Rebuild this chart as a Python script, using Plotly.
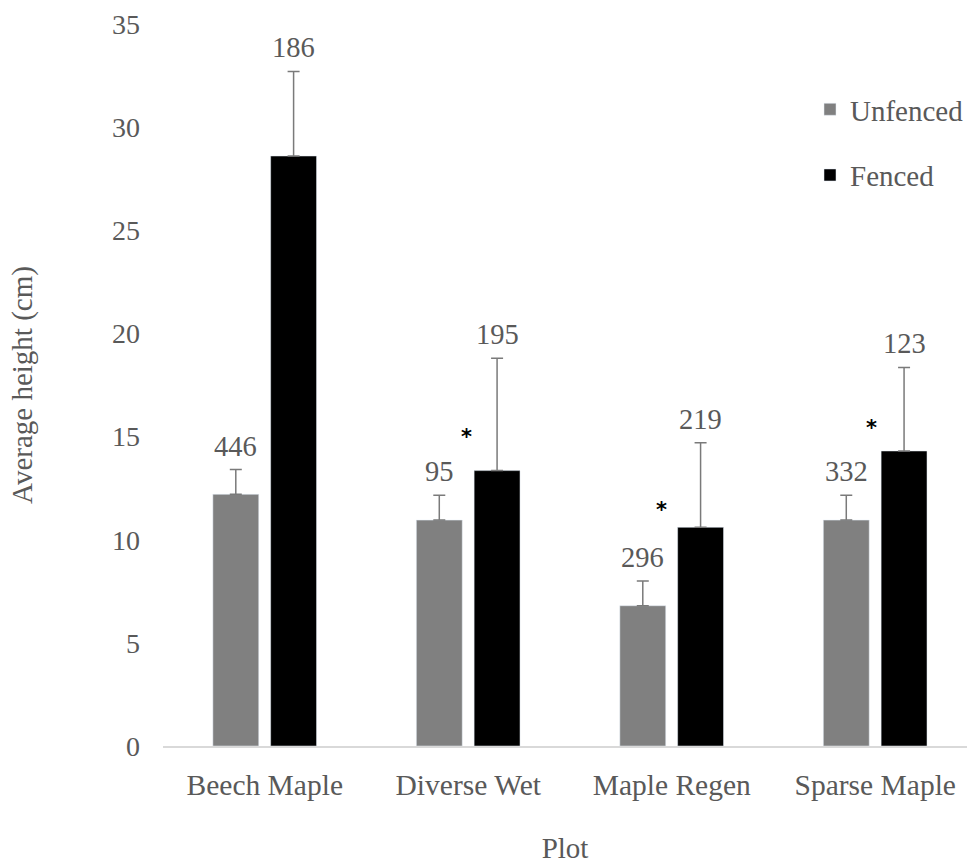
import plotly.graph_objects as go

categories = ["Beech Maple", "Diverse Wet", "Maple Regen", "Sparse Maple"]
unfenced_mean = [12.2, 10.95, 6.8, 10.95]
unfenced_err = [1.2, 1.2, 1.2, 1.2]
fenced_mean = [28.6, 13.35, 10.6, 14.3]
fenced_err = [4.1, 5.45, 4.1, 4.05]
unfenced_n = ["446", "95", "296", "332"]
fenced_n = ["186", "195", "219", "123"]
signif_y = [None, 15.0, 11.45, 15.4]
y_ticks = [0, 5, 10, 15, 20, 25, 30, 35]

FONT = "Liberation Serif"
TXT = "#595959"
BW = 0.2255
OFF_U = -0.255
OFF_F = 0.029
STAR_DX = [0, -0.01, -0.05, -0.02]  # horizontal nudges for the asterisks

xs = list(range(len(categories)))

fig = go.Figure()
fig.add_trace(go.Bar(
    x=xs, y=unfenced_mean, name="Unfenced", marker_color="#808080",
    width=BW, offset=OFF_U, legendgroup="u",
    error_y=dict(type="data", array=unfenced_err, arrayminus=[0] * 4,
                 symmetric=False, color="#7a7a7a", thickness=1.5, width=6),
))
fig.add_trace(go.Bar(
    x=xs, y=fenced_mean, name="Fenced", marker_color="#000000",
    width=BW, offset=OFF_F, legendgroup="f",
    error_y=dict(type="data", array=fenced_err, arrayminus=[0] * 4,
                 symmetric=False, color="#7a7a7a", thickness=1.5, width=6),
))

for i in xs:
    fig.add_annotation(x=i + OFF_U + BW / 2, y=unfenced_mean[i] + unfenced_err[i],
                       text=unfenced_n[i], showarrow=False, yanchor="bottom",
                       yshift=6, font=dict(family=FONT, size=28.5, color=TXT))
    fig.add_annotation(x=i + OFF_F + BW / 2, y=fenced_mean[i] + fenced_err[i],
                       text=fenced_n[i], showarrow=False, yanchor="bottom",
                       yshift=6, font=dict(family=FONT, size=28.5, color=TXT))
    if signif_y[i] is not None:
        fig.add_annotation(x=i + STAR_DX[i], y=signif_y[i], text="<b>*</b>",
                           showarrow=False, yanchor="middle",
                           font=dict(family="DejaVu Sans", size=21, color="#000000"))

fig.update_layout(
    width=969, height=865,
    margin=dict(l=163, r=0, t=24, b=119),
    plot_bgcolor="white", paper_bgcolor="white",
    font=dict(family=FONT, size=28, color=TXT),
    showlegend=True,
    legend=dict(x=0.805, y=0.917, xanchor="left", yanchor="top",
                font=dict(family=FONT, size=29, color=TXT),
                tracegroupgap=25, bgcolor="rgba(0,0,0,0)"),
    xaxis=dict(range=[-0.5, 3.451], tickvals=xs, ticktext=categories,
               showgrid=False, zeroline=False, showline=True,
               linecolor="#d9d9d9", linewidth=1.5, ticks="",
               ticklabelstandoff=12,
               tickfont=dict(family=FONT, size=29.5, color=TXT),
               title=dict(text="Plot", standoff=38,
                          font=dict(family=FONT, size=29, color=TXT))),
    yaxis=dict(range=[0, 35], tickvals=y_ticks, showgrid=False,
               zeroline=False, showline=False, ticks="",
               ticklabelstandoff=22,
               tickfont=dict(family=FONT, size=28, color=TXT),
               title=dict(text="Average height (cm)", standoff=70,
                          font=dict(family=FONT, size=29, color=TXT))),
)

fig.write_html("out.html", config={"displayModeBar": False},
               post_script="document.body.style.margin='0';document.body.style.padding='0';")
